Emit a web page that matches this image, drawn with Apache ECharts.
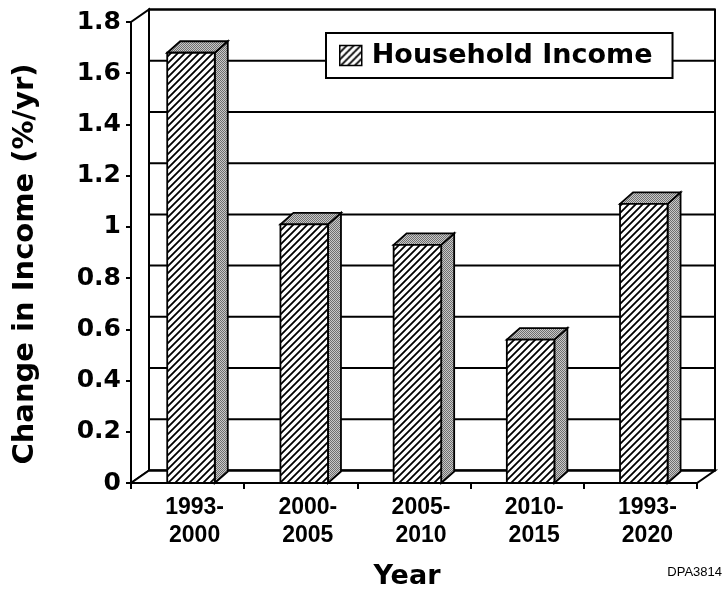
<!DOCTYPE html>
<html>
<head>
<meta charset="utf-8">
<script src="https://cdn.jsdelivr.net/npm/echarts@6/dist/echarts.min.js"></script>
<style>
html,body{margin:0;padding:0;background:#fff;}
#chart{width:726px;height:593px;}
</style>
</head>
<body>
<div id="chart"></div>
<script>
// ---- data ----
const categories = ['1993-\n2000', '2000-\n2005', '2005-\n2010', '2010-\n2015', '1993-\n2020'];
const incomeChange = [1.68, 1.01, 0.93, 0.56, 1.09];
const yTicks = [0, 0.2, 0.4, 0.6, 0.8, 1, 1.2, 1.4, 1.6, 1.8];
const seriesName = 'Household Income';

// ---- patterns ----
function makeHatch() {
  const c = document.createElement('canvas');
  c.width = 7; c.height = 7;
  const g = c.getContext('2d');
  g.fillStyle = '#fff'; g.fillRect(0, 0, 7, 7);
  g.strokeStyle = '#000'; g.lineWidth = 1.8;
  g.beginPath();
  g.moveTo(-2, 2); g.lineTo(2, -2);
  g.moveTo(-2, 9); g.lineTo(9, -2);
  g.moveTo(5, 9); g.lineTo(9, 5);
  g.stroke();
  return c;
}
function makeStipple() {
  const c = document.createElement('canvas');
  c.width = 2; c.height = 2;
  const g = c.getContext('2d');
  g.fillStyle = '#c8c8c8'; g.fillRect(0, 0, 2, 2);
  g.fillStyle = '#6e6e6e'; g.fillRect(0, 0, 1, 1); g.fillRect(1, 1, 1, 1);
  return c;
}
const hatch = { image: makeHatch(), repeat: 'repeat' };
const stipple = { image: makeStipple(), repeat: 'repeat' };

const WALL_DX = 18, WALL_DY = -12.5;
const BAR_DX = 13, BAR_DY = -11.5;

const chart = echarts.init(document.getElementById('chart'), null, { renderer: 'canvas' });

function renderFrame(params, api) {
  const n = categories.length;
  const band = api.size([1, 0])[0];
  const x0 = api.coord([0, 0])[0] - band / 2;
  const x1 = api.coord([n - 1, 0])[0] + band / 2;
  const y0 = api.coord([0, yTicks[0]])[1];
  const yT = api.coord([0, yTicks[yTicks.length - 1]])[1];
  const st = { fill: '#fff', stroke: '#000', lineWidth: 2 };
  const children = [];
  children.push({ type: 'polygon', shape: { points: [[x0 + WALL_DX, yT + WALL_DY], [x1 + WALL_DX, yT + WALL_DY], [x1 + WALL_DX, y0 + WALL_DY], [x0 + WALL_DX, y0 + WALL_DY]] }, style: st });
  children.push({ type: 'polygon', shape: { points: [[x0, y0], [x0, yT], [x0 + WALL_DX, yT + WALL_DY], [x0 + WALL_DX, y0 + WALL_DY]] }, style: st });
  children.push({ type: 'polygon', shape: { points: [[x0, y0], [x1, y0], [x1 + WALL_DX, y0 + WALL_DY], [x0 + WALL_DX, y0 + WALL_DY]] }, style: st });
  yTicks.forEach(function (t) {
    const y = api.coord([0, t])[1] + WALL_DY;
    children.push({ type: 'line', shape: { x1: x0 + WALL_DX, y1: y, x2: x1 + WALL_DX, y2: y }, style: { stroke: '#000', lineWidth: 2 } });
  });
  return { type: 'group', children: children };
}

function renderBar(params, api) {
  const xi = api.value(0), v = api.value(1);
  const base = api.coord([xi, 0]);
  const top = api.coord([xi, v]);
  const band = api.size([1, 0])[0];
  const w = band * 0.42;
  const cx = base[0] + band * 0.03;
  const l = cx - w / 2, r = cx + w / 2;
  const ty = top[1], by = base[1];
  return {
    type: 'group',
    children: [
      { type: 'polygon', shape: { points: [[r, by], [r + BAR_DX, by + BAR_DY], [r + BAR_DX, ty + BAR_DY], [r, ty]] }, style: { fill: stipple, stroke: '#000', lineWidth: 1.8 } },
      { type: 'polygon', shape: { points: [[l, ty], [l + BAR_DX, ty + BAR_DY], [r + BAR_DX, ty + BAR_DY], [r, ty]] }, style: { fill: stipple, stroke: '#000', lineWidth: 1.8 } },
      { type: 'rect', shape: { x: l, y: ty, width: w, height: by - ty }, style: { fill: hatch, stroke: '#000', lineWidth: 1.8 } }
    ]
  };
}

const option = {
  backgroundColor: '#fff',
  animation: false,
  grid: { left: 131, top: 22, width: 566, height: 461 },
  legend: {
    data: [{ name: seriesName, itemStyle: { color: hatch } }],
    left: 326, top: 33,
    backgroundColor: '#fff', borderColor: '#000', borderWidth: 2,
    padding: [9, 20, 9, 13],
    itemWidth: 22, itemHeight: 20,
    icon: 'rect',
    itemStyle: { borderColor: '#000', borderWidth: 1.5 },
    textStyle: { fontFamily: 'DejaVu Sans', fontWeight: 'bold', fontSize: 27, color: '#000', padding: [0, 0, 0, 5] },
    selectedMode: false
  },
  xAxis: {
    type: 'category', data: categories, boundaryGap: true,
    axisLine: { lineStyle: { color: '#000', width: 2 } },
    axisTick: { show: true, length: 6, lineStyle: { color: '#000', width: 2 } },
    axisLabel: { color: '#000', fontFamily: 'Liberation Sans', fontWeight: 'bold', fontSize: 23, lineHeight: 28, margin: 11, padding: [0, 0, 0, 14] },
    splitLine: { show: false }
  },
  yAxis: {
    type: 'value', min: 0, max: 1.8, interval: 0.2,
    axisLine: { show: true, lineStyle: { color: '#000', width: 2 } },
    axisTick: { show: true, length: 5, lineStyle: { color: '#000', width: 2 } },
    axisLabel: { color: '#000', fontFamily: 'DejaVu Sans', fontWeight: 'bold', fontSize: 25, margin: 10 },
    splitLine: { show: false }
  },
  series: [
    { type: 'custom', name: '__frame', data: [[0, 0]], renderItem: renderFrame, silent: true, z: 1, clip: false },
    { type: 'custom', name: seriesName, data: incomeChange.map(function (v, i) { return [i, v]; }), encode: { x: 0, y: 1 }, itemStyle: { color: hatch }, renderItem: renderBar, z: 3, clip: false }
  ],
  graphic: [
    { type: 'text', x: 25, y: 264, rotation: Math.PI / 2, style: { text: 'Change in Income (%/yr)', font: 'bold 29px "DejaVu Sans"', fill: '#000', align: 'center', verticalAlign: 'middle' } },
    { type: 'text', x: 407, y: 577, style: { text: 'Year', font: 'bold 27px "DejaVu Sans"', fill: '#000', align: 'center', verticalAlign: 'middle' } },
    { type: 'text', x: 722, y: 572, style: { text: 'DPA3814', font: '13px "Liberation Sans"', fill: '#000', align: 'right', verticalAlign: 'middle' } }
  ]
};
chart.setOption(option);
</script>
</body>
</html>
